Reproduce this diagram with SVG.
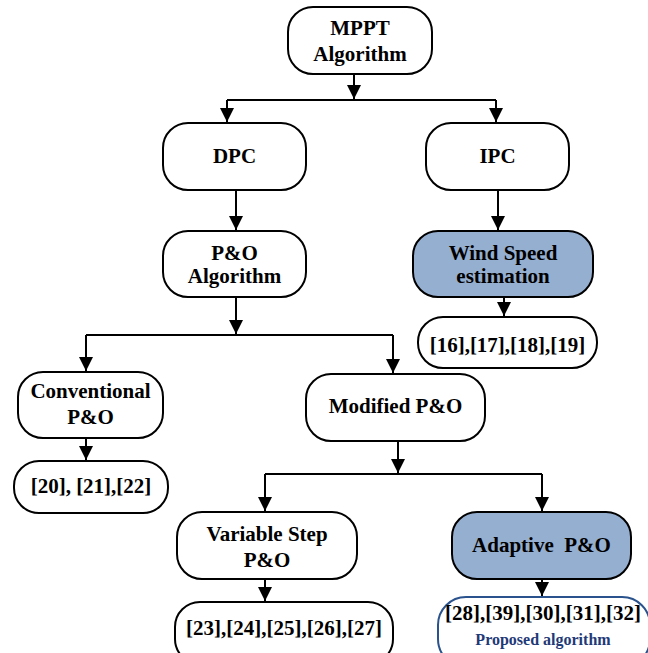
<svg xmlns="http://www.w3.org/2000/svg" width="648" height="653" viewBox="0 0 648 653">
<defs>
<style>
.box{fill:#ffffff;stroke:#000000;stroke-width:2}
.hl{fill:#95afd1;stroke:#000000;stroke-width:2}
.pro{fill:#ffffff;stroke:#2a528c;stroke-width:2}
.c{fill:none;stroke:#000;stroke-width:2}
</style>
<marker id="ah" viewBox="0 0 10 10" refX="10" refY="5" markerWidth="7" markerHeight="7" markerUnits="strokeWidth" orient="auto">
<path d="M0,0 L10,5 L0,10 Z" fill="#000"/>
</marker>
</defs>
<rect width="648" height="653" fill="#ffffff"/>
<g id="connectors">
<path class="c" d="M354,74 V99" marker-end="url(#ah)"/>
<path class="c" d="M227,100 H496"/>
<path class="c" d="M227,100 V122" marker-end="url(#ah)"/>
<path class="c" d="M496,100 V122" marker-end="url(#ah)"/>
<path class="c" d="M236,190 V230" marker-end="url(#ah)"/>
<path class="c" d="M498,190 V230" marker-end="url(#ah)"/>
<path class="c" d="M504,297 V316" marker-end="url(#ah)"/>
<path class="c" d="M236,297 V334" marker-end="url(#ah)"/>
<path class="c" d="M86,335 H393"/>
<path class="c" d="M86,335 V371" marker-end="url(#ah)"/>
<path class="c" d="M393,335 V373" marker-end="url(#ah)"/>
<path class="c" d="M86,438 V460" marker-end="url(#ah)"/>
<path class="c" d="M398,441 V473" marker-end="url(#ah)"/>
<path class="c" d="M265,474 H542"/>
<path class="c" d="M265,474 V511" marker-end="url(#ah)"/>
<path class="c" d="M542,474 V511" marker-end="url(#ah)"/>
<path class="c" d="M265,579 V601" marker-end="url(#ah)"/>
<path class="c" d="M542,579 V596" marker-end="url(#ah)"/>
</g>
<g font-family="Liberation Serif, Times New Roman, serif" font-weight="bold" font-size="21" text-anchor="middle" fill="#000">
<g id="mppt">
<rect class="box" x="288" y="7" width="144" height="67" rx="25"/>
<text x="360" y="35">MPPT</text>
<text x="360" y="61">Algorithm</text>
</g>
<g id="dpc">
<rect class="box" x="163" y="123" width="143" height="67" rx="25"/>
<text x="234.5" y="163">DPC</text>
</g>
<g id="ipc">
<rect class="box" x="426" y="123" width="143" height="67" rx="25"/>
<text x="497.5" y="163">IPC</text>
</g>
<g id="po">
<rect class="box" x="163" y="231" width="143" height="66" rx="25"/>
<text x="234.5" y="260">P&amp;O</text>
<text x="234.5" y="283">Algorithm</text>
</g>
<g id="wind">
<rect class="hl" x="413" y="231" width="180" height="66" rx="25"/>
<text x="503" y="260">Wind Speed</text>
<text x="503" y="283">estimation</text>
</g>
<g id="ref16">
<rect class="box" x="418" y="317" width="179" height="51" rx="25"/>
<text x="507.5" y="352">[16],[17],[18],[19]</text>
</g>
<g id="conv">
<rect class="box" x="18" y="372" width="145" height="66" rx="25"/>
<text x="90.5" y="398">Conventional</text>
<text x="90.5" y="424">P&amp;O</text>
</g>
<g id="mod">
<rect class="box" x="306" y="374" width="179" height="67" rx="25"/>
<text x="395.5" y="413">Modified P&amp;O</text>
</g>
<g id="ref20">
<rect class="box" x="14" y="461" width="154" height="52" rx="25"/>
<text x="91" y="493">[20], [21],[22]</text>
</g>
<g id="var">
<rect class="box" x="177" y="512" width="180" height="67" rx="25"/>
<text x="267" y="541">Variable Step</text>
<text x="267" y="567">P&amp;O</text>
</g>
<g id="adapt">
<rect class="hl" x="452" y="512" width="179" height="67" rx="25"/>
<text x="541.5" y="552" xml:space="preserve">Adaptive  P&amp;O</text>
</g>
<g id="ref23">
<rect class="box" x="175" y="602" width="218" height="62" rx="25"/>
<text x="284" y="635">[23],[24],[25],[26],[27]</text>
</g>
<g id="ref28">
<rect class="pro" x="438" y="597" width="212" height="70" rx="28"/>
<text x="543" y="620">[28],[39],[30],[31],[32]</text>
<text x="543" y="645" font-size="16" fill="#1f3a78">Proposed algorithm</text>
</g>
</g>
</svg>
